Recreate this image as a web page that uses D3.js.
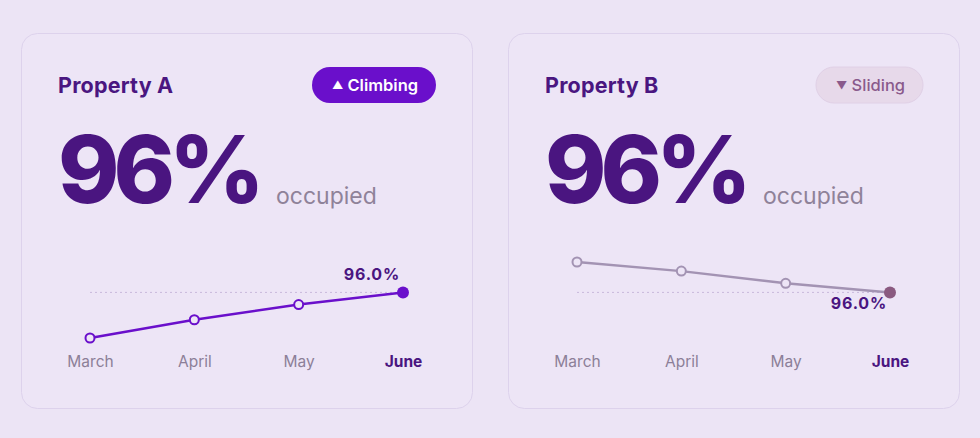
<!DOCTYPE html>
<html><head><meta charset="utf-8">
<script src="https://cdn.jsdelivr.net/npm/d3@7"></script>
<style>
html,body{margin:0;padding:0;background:#ECE4F5;}
svg{display:block;font-family:Inter,"Open Sans",sans-serif;}
</style></head>
<body><svg id="c" width="980" height="438"></svg>
<script>
const months = ["March","April","May","June"];
const propertyNames = ["Property A","Property B"];
const valuesA = [93.0, 94.2, 95.2, 96.0];
const valuesB = [98.0, 97.4, 96.6, 96.0];
const headlines = ["96%","96%"];
const badgeIcons = ["▲","▼"];
const badgeLabels = ["Climbing","Sliding"];
const lastLabels = ["96.0%","96.0%"];

const svg = d3.select("#c");
const cards = [
  {x:21, name:propertyNames[0], values:valuesA, icon:badgeIcons[0], badge:badgeLabels[0], up:true, last:lastLabels[0], head:headlines[0]},
  {x:508, name:propertyNames[1], values:valuesB, icon:badgeIcons[1], badge:badgeLabels[1], up:false, last:lastLabels[1], head:headlines[1]}
];
const y = d3.scaleLinear().domain([93,98]).range([338,262]);

cards.forEach(c=>{
  const g = svg.append("g").attr("transform",`translate(${c.x},0)`);
  g.append("rect").attr("x",0.5).attr("y",33.5).attr("width",451).attr("height",375)
    .attr("rx",16).attr("fill","#EDE5F6").attr("stroke","#DDD2EC");
  g.append("text").attr("x",37).attr("y",93).attr("font-size",21.5).attr("font-weight",700)
    .attr("fill","#4A1680").attr("letter-spacing",0.2).text(c.name);
  // badge
  const bw = c.up?124:107, bx = c.up?291:308;
  g.append("rect").attr("x",bx).attr("y",67).attr("width",bw).attr("height",36).attr("rx",18)
    .attr("fill",c.up?"#6A0FCB":"#E7D9EA").attr("stroke",c.up?"none":"#E0D0E6");
  const bt = g.append("text").attr("x",bx+bw/2+1).attr("y",91).attr("text-anchor","middle")
    .attr("font-size",16.5).attr("font-weight",c.up?600:500)
    .attr("fill",c.up?"#ffffff":"#8A5A8C");
  bt.append("tspan").attr("font-size",11).attr("dy",-2).text(c.icon);
  bt.append("tspan").attr("dy",2).text(" " + c.badge);
  // headline
  g.append("text").attr("x",37).attr("y",203).attr("font-size",93).attr("font-weight",800)
    .attr("letter-spacing",-6).attr("fill","#4A1580").text(c.head);
  g.append("text").attr("x",255).attr("y",204).attr("font-size",23)
    .attr("fill","#8F8299").text("occupied");
  // chart
  const x = d3.scalePoint().domain(months).range([69,382]);
  const lineCol = c.up?"#6A0FCB":"#A393B3";
  const lastCol = c.up?"#6A0FCB":"#8A5A80";
  const lastV = c.values[c.values.length-1];
  g.append("line").attr("x1",x(months[0])).attr("x2",x(months[3])).attr("y1",y(lastV)).attr("y2",y(lastV))
    .attr("stroke","#C9B8DC").attr("stroke-width",1).attr("stroke-dasharray","2,3");
  g.append("path").datum(c.values).attr("fill","none").attr("stroke",lineCol).attr("stroke-width",2.5)
    .attr("d",d3.line().x((d,i)=>x(months[i])).y(d=>y(d)));
  g.selectAll("circle.p").data(c.values).join("circle")
    .attr("cx",(d,i)=>x(months[i])).attr("cy",d=>y(d))
    .attr("r",(d,i)=>i===3?6:4.5)
    .attr("fill",(d,i)=>i===3?lastCol:"#EDE5F6")
    .attr("stroke",(d,i)=>i===3?"none":lineCol).attr("stroke-width",2);
  g.append("text").attr("x",x(months[3])-3).attr("y",c.up?y(lastV)-12:y(lastV)+17)
    .attr("text-anchor","end").attr("font-size",16).attr("font-weight",700).attr("letter-spacing",0.8)
    .attr("fill","#4A1580").text(c.last);
  const axis = d3.axisBottom(x).tickSize(0).tickPadding(0);
  const ag = g.append("g").attr("transform","translate(0,367)").call(axis);
  ag.select(".domain").remove();
  ag.selectAll("text").attr("dy",0).attr("font-size",15.5).attr("font-family","Inter,sans-serif")
    .attr("fill",(d,i)=>i===3?"#4A1580":"#8C7F98").attr("font-weight",(d,i)=>i===3?700:400);
});
</script></body></html>
